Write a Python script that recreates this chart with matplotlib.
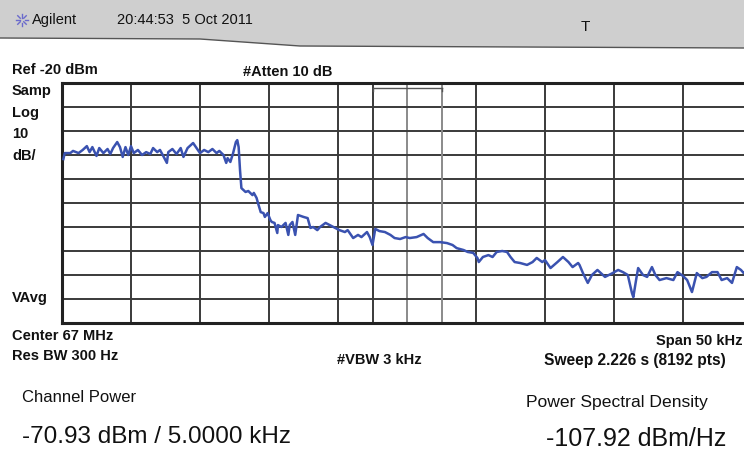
import math
import matplotlib
matplotlib.use("Agg")
import matplotlib.pyplot as plt
from matplotlib.patches import Polygon

# ---- data (frequency offset from 67 MHz in kHz, level in dBm)
freq_khz = [-24.9, -24.8, -24.4, -24.2, -23.8, -23.5, -23.2, -23.0, -22.8, -22.5,
            -22.3, -22.0, -21.7, -21.5, -21.3, -21.0, -20.8, -20.6, -20.4, -20.2,
            -20.0, -19.8, -19.5, -19.2, -18.9, -18.6, -18.4, -18.1, -17.9, -17.7,
            -17.4, -17.3, -17.0, -16.7, -16.4, -16.2, -15.9, -15.5, -15.3, -15.0,
            -14.7, -14.4, -14.1, -13.8, -13.6, -13.3, -13.1, -13.0, -12.8, -12.6,
            -12.4, -12.3, -12.2, -12.1, -12.0, -11.7, -11.5, -11.2, -11.1, -10.9,
            -10.8, -10.6, -10.4, -10.3, -10.1, -9.9, -9.8, -9.6, -9.4, -9.35,
            -9.1, -8.8, -8.6, -8.5, -8.3, -8.1, -7.9, -7.5, -7.2, -7.0,
            -6.8, -6.5, -6.3, -5.9, -5.6, -5.2, -4.9, -4.5, -4.3, -3.9,
            -3.55, -3.3, -2.9, -2.7, -2.5, -2.3, -2.0, -1.6, -1.2, -0.9,
            -0.5, -0.1, 0.2, 0.7, 1.2, 1.5, 1.9, 2.4, 2.9, 3.3,
            3.6, 4.1, 4.4, 4.8, 5.1, 5.2, 5.5, 5.9, 6.2, 6.5,
            6.9, 7.25, 7.5, 7.8, 8.2, 8.7, 9.1, 9.4, 9.8, 10.0,
            10.4, 10.9, 11.3, 11.7, 12.0, 12.4, 12.5, 12.75, 13.1, 13.4,
            13.8, 14.35, 14.9, 15.3, 15.65, 16.0, 16.3, 16.4, 16.6, 16.75,
            17.1, 17.4, 17.75, 18.0, 18.3, 18.8, 19.3, 19.6, 20.0, 20.3,
            20.65, 21.0, 21.4, 21.7, 22.1, 22.5, 22.8, 23.2, 23.55, 23.9,
            24.2, 24.4, 25.0]
level_dbm = [-51.7, -49.2, -49.2, -48.3, -49.2, -47.9, -46.3, -48.8, -46.7, -50.4,
             -47.1, -49.2, -47.5, -49.6, -47.1, -44.6, -46.7, -50.8, -46.7, -50.0,
             -46.3, -49.2, -47.9, -50.0, -48.8, -49.6, -47.1, -48.8, -47.9, -50.0,
             -53.3, -48.8, -47.5, -49.6, -47.1, -50.8, -47.1, -45.0, -46.7, -49.2,
             -47.9, -48.8, -47.5, -49.2, -48.3, -50.0, -53.3, -51.3, -52.9, -49.2,
             -44.6, -43.8, -46.7, -56.3, -63.8, -65.4, -65.0, -66.7, -65.8, -67.9,
             -70.0, -73.8, -74.2, -75.8, -74.2, -77.1, -77.9, -78.3, -82.5, -79.2,
             -80.0, -78.3, -83.3, -79.2, -77.9, -83.3, -75.0, -75.8, -76.3, -80.4,
             -80.0, -81.3, -80.0, -78.3, -79.2, -80.4, -81.3, -82.1, -81.3, -84.6,
             -83.3, -84.2, -82.1, -84.2, -87.5, -80.8, -81.7, -82.1, -83.3, -84.6,
             -85.0, -84.2, -84.6, -84.2, -82.9, -84.6, -86.3, -86.3, -86.7, -87.5,
             -88.8, -89.6, -90.4, -90.8, -92.9, -94.6, -92.5, -91.7, -92.5, -90.4,
             -90.0, -90.4, -92.5, -94.6, -95.0, -95.8, -94.6, -92.9, -94.6, -93.8,
             -97.1, -94.6, -92.5, -94.6, -96.7, -95.0, -95.8, -99.2, -103.3, -100.0,
             -97.9, -100.8, -99.2, -97.9, -98.8, -100.0, -107.5, -109.2, -102.1, -97.1,
             -100.0, -100.8, -96.7, -100.0, -102.1, -101.3, -102.1, -98.8, -100.4, -102.1,
             -107.1, -99.2, -101.3, -100.8, -98.8, -98.8, -102.1, -101.3, -103.3, -96.7,
             -97.9, -99.2, -98.0]

ref_level = -20
db_per_div = 10
span_khz = 50
channel_bw_khz = 5.0

header_time = "20:44:53  5 Oct 2011"
left_labels = ["Samp", "Log", "10", "dB/"]
channel_power = "-70.93 dBm / 5.0000 kHz"
psd = "-107.92 dBm/Hz"

W, H = 744, 454
fig = plt.figure(figsize=(W / 100, H / 100), dpi=100)
fig.patch.set_facecolor("white")

# full-figure overlay in pixel coordinates for annotations
bg = fig.add_axes([0, 0, 1, 1])
bg.set_xlim(0, W)
bg.set_ylim(H, 0)
bg.axis("off")

fam = ["Liberation Sans", "DejaVu Sans"]

# header band
bg.add_patch(Polygon([[0, 0], [W, 0], [W, 48], [300, 46], [200, 39], [0, 38]],
                     closed=True, facecolor="#cfcfcf", edgecolor="none"))
bg.plot([0, 200, 300, W], [38, 39, 46, 48], color="#555555", lw=1.0)
# logo sparkle
for k in range(8):
    a = k * math.pi / 4
    bg.plot([22 + 2.5 * math.cos(a), 22 + 6 * math.cos(a)],
            [20 + 2.5 * math.sin(a), 20 + 6 * math.sin(a)],
            color="#6a6acc", lw=1.0)
bg.text(32, 20, "Agilent", family=fam, fontsize=10.5, va="center", ha="left", color="#111111")
bg.text(117, 20, header_time, family=fam, fontsize=10.5, va="center", ha="left", color="#111111")
bg.text(585, 27, "T", family=fam, fontsize=11, va="center", ha="center", color="#111111")

bold = dict(family=fam, fontsize=10.5, fontweight="bold", color="#111111", va="center")
bg.text(12, 70, "Ref -20 dBm", ha="left", **bold)
bg.text(243, 72, "#Atten 10 dB", ha="left", **bold)
for lab, yy in zip(left_labels, [91, 113, 134, 156]):
    bg.text(12, yy, lab, ha="left", **bold)
bg.text(12, 298, "VAvg", ha="left", **bold)
bg.text(12, 336, "Center 67 MHz", ha="left", **bold)
bg.text(12, 356, "Res BW 300 Hz", ha="left", **bold)
bg.text(337, 360, "#VBW 3 kHz", ha="left", **bold)
bg.text(742, 341, "Span 50 kHz", ha="right", **bold)
bg.text(544, 360, "Sweep 2.226 s (8192 pts)", ha="left", family=fam, fontsize=11.2,
        fontweight="bold", color="#111111", va="center")

bg.text(22, 397, "Channel Power", family=fam, fontsize=12, ha="left", va="center", color="#111111")
bg.text(22, 437, channel_power, family=fam, fontsize=17.5, ha="left", va="center", color="#111111")
bg.text(526, 402, "Power Spectral Density", family=fam, fontsize=12.6, ha="left", va="center", color="#111111")
bg.text(546, 439, psd, family=fam, fontsize=18, ha="left", va="center", color="#111111")

# main trace axes (right edge extends beyond the picture, as in the screenshot)
left_px, right_px, top_px, bot_px = 62, 752, 83, 323
ax = fig.add_axes([left_px / W, 1 - bot_px / H, (right_px - left_px) / W, (bot_px - top_px) / H])
ax.set_facecolor("white")
ax.set_xlim(-span_khz / 2, span_khz / 2)
ax.set_ylim(ref_level - 10 * db_per_div, ref_level)
for s in ax.spines.values():
    s.set_linewidth(2.2)
    s.set_color("#222222")
ax.set_xticks([])
ax.set_yticks([])

for k in range(1, 10):
    xv = -span_khz / 2 + k * span_khz / 10
    ax.axvline(xv, color="#8a8a8a" if abs(xv) < 1e-9 else "#3a3a3a", lw=1.4, zorder=1)
for k in range(1, 10):
    ax.axhline(ref_level - k * db_per_div, color="#3a3a3a", lw=1.4, zorder=1)
ax.axvline(-channel_bw_khz / 2, color="#3a3a3a", lw=1.4, zorder=1)
ax.axvline(channel_bw_khz / 2, color="#8a8a8a", lw=1.4, zorder=1)
# channel bracket
ax.plot([-channel_bw_khz / 2, channel_bw_khz / 2], [ref_level - 2, ref_level - 2], color="#555555", lw=1.0)
ax.plot([-channel_bw_khz / 2, -channel_bw_khz / 2], [ref_level - 2, ref_level - 3.3], color="#555555", lw=1.0)
ax.plot([channel_bw_khz / 2, channel_bw_khz / 2], [ref_level - 2, ref_level - 3.3], color="#555555", lw=1.0)

ax.plot(freq_khz, level_dbm, color="#3a52b0", lw=1.8, zorder=3)

fig.savefig("out.png", dpi=100)
